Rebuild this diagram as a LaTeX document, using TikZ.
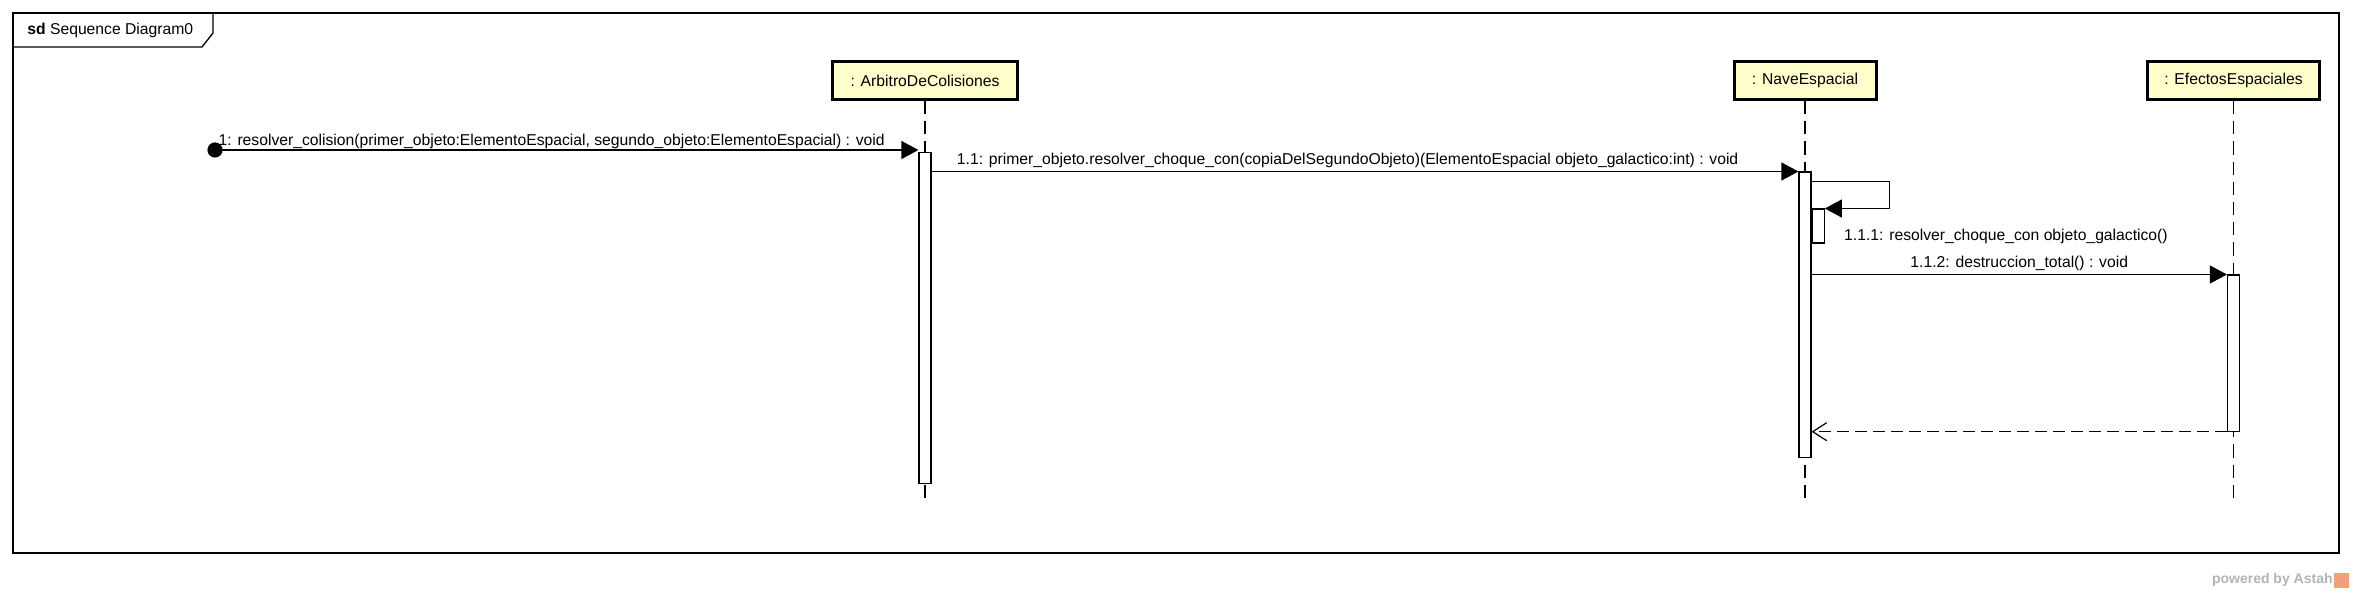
\documentclass[tikz,border=0pt]{standalone}
\usepackage{fontspec}
\setmainfont{Liberation Sans}
\usepackage{tikz}
\usetikzlibrary{positioning, arrows.meta}
\definecolor{headfill}{HTML}{FFFFCC}
\definecolor{astahgray}{HTML}{B4B4B4}
\definecolor{astahorange}{HTML}{F2A07B}
\tikzstyle{lifehead} = [rectangle, minimum height=19pt, inner xsep=2pt, text centered, draw=black, line width=1.5pt, fill=headfill]
\tikzstyle{act}      = [rectangle, minimum width=6pt, inner sep=0pt, draw=black, line width=0.6pt, fill=white]
\tikzstyle{lifeline} = [line width=0.55pt, dash pattern=on 6.6pt off 3.5pt]
\tikzstyle{msg}      = [-{Triangle[length=8.5pt, width=9pt]}, line width=0.6pt]
\tikzstyle{ret}      = [-{Straight Barb[length=7pt, width=9pt]}, line width=0.6pt, dash pattern=on 6pt off 3pt]
\tikzstyle{lbl}      = [inner sep=1.5pt]

\begin{document}
\begin{tikzpicture}[x=0.5pt, y=-0.5pt, font=\fontsize{7.85}{9.4}\selectfont]
            \useasboundingbox (0,0) rectangle (2356,593);
            \draw[line width=0.65pt] (13,13) rectangle (2339,553);
            \draw[line width=0.65pt] (13,47) -- (202,47) -- (213,33) -- (213,13);
            \node[anchor=west, inner sep=0pt] (title) at (27,30) {\textbf{sd} Sequence Diagram0};

            \node[lifehead, minimum width=92.5pt] (arbitro) at (925,80.5) {: ArbitroDeColisiones};
            \node[lifehead, minimum width=71pt]   (nave)    [right=356.75pt of arbitro] {: NaveEspacial};
            \node[lifehead, minimum width=86pt]   (efectos) [right=134.25pt of nave   ] {: EfectosEspaciales};
            \coordinate (bottom) at (0,500);
            \coordinate (found)  at (215,150);

            \draw[lifeline] (arbitro.south) -- (arbitro |- bottom);
            \draw[lifeline] (nave.south)    -- (nave |- bottom);
            \draw[lifeline] (efectos.south) -- (efectos |- bottom);

            \node[act, minimum height=165.5pt] (actA)  [below=25.5pt of arbitro ] {};
            \node[act, minimum height=142.5pt] (actN)  [below=35.25pt of nave   ] {};
            \node[act, minimum height=17pt, anchor=north west] (actN2) at ([yshift=-18.5pt]actN.north east) {};
            \node[act, minimum height=78pt]    (actE)  [below=86.75pt of efectos] {};

            \fill (found) circle (3.8pt);
            \draw[msg] (found) -- (found -| actA.west) node [lbl, pos=0, anchor=south west, yshift=-1pt] {1: resolver\_colision(primer\_objeto:ElementoEspacial, segundo\_objeto:ElementoEspacial) : void};
            \draw[msg] (actA.east |- actN.north) -- (actN.north west) node [lbl, pos=0.48, above] {1.1: primer\_objeto.resolver\_choque\_con(copiaDelSegundoObjeto)(ElementoEspacial objeto\_galactico:int) : void};
            \draw[msg] ([yshift=-5pt]actN.north east) -- ++(78,0) |- (actN2.north east);
            \node[lbl, anchor=west] (l111) at ([xshift=8pt, yshift=-14pt]actN2.north east) {1.1.1: resolver\_choque\_con objeto\_galactico()};
            \draw[msg] (actN.east |- actE.north) -- (actE.north west) node [lbl, midway, above] {1.1.2: destruccion\_total() : void};
            \draw[ret] (actE.south west) -- (actN.east |- actE.south west);

            \node[anchor=east, inner sep=0pt, text=astahgray, font=\bfseries\fontsize{7}{8}\selectfont] (astah) at (2333,580) {powered by Astah};
            \node[fill=astahorange, minimum size=7.5pt, inner sep=0pt, right=0.5pt of astah] (logo) {};
        \end{tikzpicture}
\end{document}
